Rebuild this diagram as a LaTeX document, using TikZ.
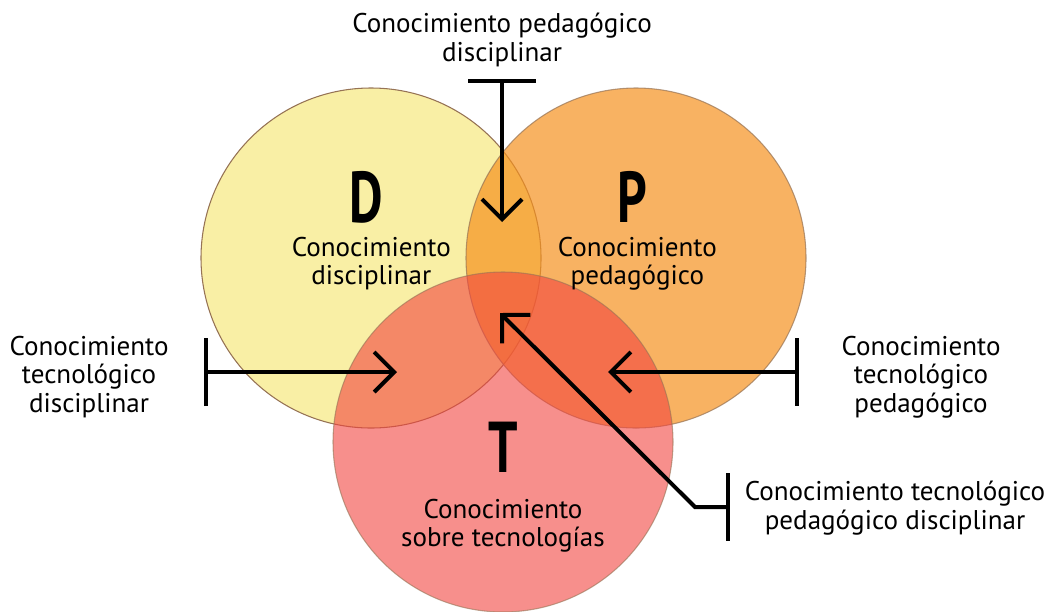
\documentclass[tikz,border=0pt]{standalone}
\usepackage{fontspec}
\setmainfont{PT Sans}
\usetikzlibrary{positioning,arrows.meta}

\definecolor{discYellow}{RGB}{249,239,165}
\definecolor{pedaOrange}{RGB}{245,145,31}
\definecolor{tecnRed}{RGB}{242,68,63}
\definecolor{rimBrown}{RGB}{150,115,85}

\tikzset{
  venn/.style={circle, minimum size=255pt, inner sep=0pt, draw=rimBrown, line width=0.8pt},
  bigletter/.style={font=\fontsize{54}{54}\selectfont\bfseries, inner sep=0pt},
  lbl/.style={align=center, font=\fontsize{20.3}{21.5}\selectfont, inner sep=0pt},
  pointer/.style={line width=3pt, {Bar[width=51pt]}-{Straight Barb[length=15pt,width=30pt]}},
}

\begin{document}
\begin{tikzpicture}[x=0.75pt,y=-0.75pt]
    \useasboundingbox (0,0) rectangle (1048,611);

    % the three circles
    \node [venn, fill=discYellow] (dCirc) at (371,258) {};
    \node [venn, fill=pedaOrange, opacity=0.7] (pCirc) at (636,258) {};
    \node [venn, fill=tecnRed, opacity=0.6] (tCirc) at (503,442) {};

    % letters and texts inside
    \node [bigletter, anchor=base] (dLetter) at (366,222) {\scalebox{0.72}[1]{D}};
    \node [lbl, below=11pt of dLetter.base, xshift=4pt] (dText) {Conocimiento\\disciplinar};

    \node [bigletter, anchor=base] (pLetter) at (632,222) {\scalebox{0.72}[1]{P}};
    \node [lbl, below=11pt of pLetter.base, xshift=4pt] (pText) {Conocimiento\\pedagógico};

    \node [bigletter, anchor=base] (tLetter) at (503,472) {\scalebox{0.72}[1]{T}};
    \node [lbl, below=20pt of tLetter.base] (tText) {Conocimiento\\sobre tecnologías};

    % outside labels
    \node [lbl] (pdLbl) at (502,40) {Conocimiento pedagógico\\disciplinar};
    \node [lbl] (tdLbl) at (89,377) {Conocimiento\\tecnológico\\disciplinar};
    \node [lbl] (tpLbl) at (921,377) {Conocimiento\\tecnológico\\pedagógico};
    \node [lbl] (tpdLbl) at (895,508) {Conocimiento tecnológico\\pedagógico disciplinar};

    % arrow ends
    \coordinate (pdBar) at (502,79);
    \coordinate (pdTip) at (502,222);
    \coordinate (tdBar) at (204,372);
    \coordinate (tdTip) at (397,372);
    \coordinate (tpBar) at (799,372);
    \coordinate (tpTip) at (608,372);
    \coordinate (tpdBar) at (730,507);
    \coordinate (tpdBend) at (695,507);
    \coordinate (tpdTip) at (500,313);

    % arrows
    \draw [pointer] (pdBar) -- (pdTip);
    \draw [pointer] (tdBar) -- (tdTip);
    \draw [pointer] (tpBar) -- (tpTip);
    \draw [pointer] (tpdBar) -- (tpdBend) -- (tpdTip);
\end{tikzpicture}
\end{document}
